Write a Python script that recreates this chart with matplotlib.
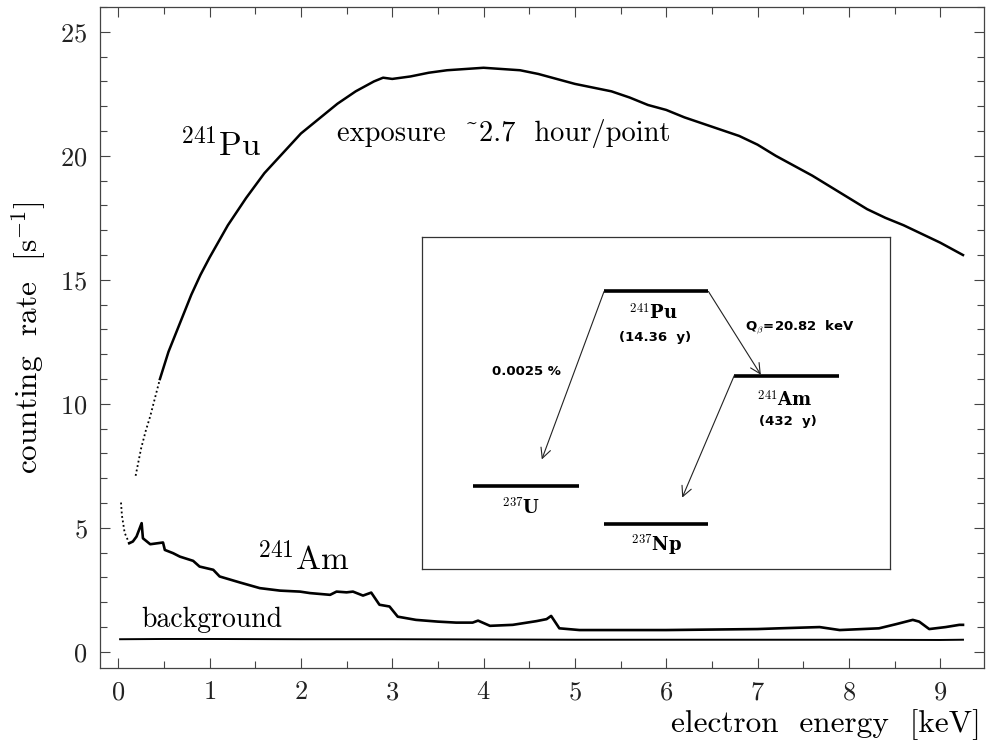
import numpy as np
import matplotlib
matplotlib.use('Agg')
import matplotlib.pyplot as plt
from matplotlib.ticker import MultipleLocator

plt.rcParams['font.family'] = ['cmr10', 'DejaVu Serif']
plt.rcParams['mathtext.fontset'] = 'cm'
plt.rcParams['axes.formatter.use_mathtext'] = True

### DATA ###
pu_energy = [0.19, 0.25, 0.30, 0.35, 0.456, 0.55, 0.675, 0.8, 0.9, 1.0, 1.2, 1.4, 1.6, 1.75,
             2.0, 2.2, 2.4, 2.6, 2.8, 2.9, 3.0, 3.2, 3.4, 3.6, 3.8, 4.0, 4.2, 4.4, 4.6, 4.8,
             5.0, 5.2, 5.4, 5.6, 5.8, 6.0, 6.2, 6.4, 6.6, 6.8, 7.0, 7.2, 7.4, 7.6, 7.8, 8.0,
             8.2, 8.4, 8.6, 8.8, 9.0, 9.1, 9.25]
pu_rate = [7.1, 8.2, 8.9, 9.5, 11.0, 12.1, 13.25, 14.4, 15.2, 15.9, 17.2, 18.3, 19.3, 19.9,
           20.9, 21.5, 22.1, 22.6, 23.0, 23.15, 23.1, 23.2, 23.35, 23.45, 23.5, 23.55, 23.5,
           23.45, 23.3, 23.1, 22.9, 22.75, 22.6, 22.35, 22.05, 21.85, 21.55, 21.3, 21.05,
           20.8, 20.45, 20.0, 19.6, 19.2, 18.75, 18.3, 17.85, 17.5, 17.2, 16.85, 16.5, 16.3, 16.0]

am_energy = [0.03, 0.04, 0.07, 0.12, 0.16, 0.2, 0.256, 0.27, 0.35, 0.49, 0.51, 0.6, 0.675,
             0.82, 0.89, 1.04, 1.11, 1.33, 1.55, 1.77, 1.99, 2.1, 2.32, 2.39, 2.5, 2.57, 2.68,
             2.77, 2.86, 2.97, 3.06, 3.26, 3.5, 3.7, 3.88, 3.94, 4.07, 4.32, 4.58, 4.69, 4.74,
             4.83, 5.05, 5.5, 6.0, 6.5, 7.0, 7.24, 7.68, 7.9, 8.33, 8.52, 8.7, 8.77, 8.88,
             9.06, 9.21, 9.25]
am_rate = [6.02, 5.5, 4.8, 4.38, 4.45, 4.65, 5.19, 4.58, 4.34, 4.41, 4.11, 3.98, 3.84,
           3.67, 3.44, 3.31, 3.04, 2.8, 2.57, 2.47, 2.43, 2.37, 2.3, 2.43, 2.4, 2.43, 2.27,
           2.39, 1.9, 1.83, 1.42, 1.29, 1.22, 1.18, 1.18, 1.26, 1.05, 1.09, 1.24, 1.32, 1.45,
           0.95, 0.88, 0.88, 0.88, 0.9, 0.92, 0.95, 1.0, 0.88, 0.95, 1.12, 1.29, 1.22, 0.92,
           1.0, 1.09, 1.09]

bg_energy = [0.02, 0.5, 1.0, 2.0, 3.0, 4.0, 5.0, 6.0, 7.0, 8.0, 9.0, 9.25]
bg_rate = [0.51, 0.52, 0.52, 0.51, 0.51, 0.50, 0.49, 0.49, 0.49, 0.49, 0.48, 0.49]

# decay scheme levels: (x_start, x_end, height) in inset units
levels = {
    'Pu241': (0.389, 0.612, 0.836),
    'Am241': (0.667, 0.892, 0.582),
    'U237': (0.110, 0.335, 0.249),
    'Np237': (0.389, 0.612, 0.136),
}

### FIGURE ###
fig = plt.figure(figsize=(9.92, 7.43), dpi=100)
ax = fig.add_axes([100 / 992, 75 / 743, 884 / 992, 661 / 743])

ax.plot(pu_energy[:5], pu_rate[:5], color='black', lw=1.3, ls=(0, (1, 1.5)))
ax.plot(pu_energy[4:], pu_rate[4:], color='black', lw=1.8)
ax.plot(am_energy[:4], am_rate[:4], color='black', lw=1.3, ls=(0, (1, 1.5)))
ax.plot(am_energy[3:], am_rate[3:], color='black', lw=1.9)
ax.plot(bg_energy, bg_rate, color='black', lw=1.4)

ax.set_xlim(-0.2, 9.48)
ax.set_ylim(-0.65, 26.0)
ax.xaxis.set_major_locator(MultipleLocator(1))
ax.xaxis.set_minor_locator(MultipleLocator(0.5))
ax.yaxis.set_major_locator(MultipleLocator(5))
ax.yaxis.set_minor_locator(MultipleLocator(1))
ax.tick_params(which='both', direction='in', top=True, right=True, color='#444444',
               width=0.8, labelsize=19, labelcolor='#222222')
ax.tick_params(which='major', length=7.5, pad=9)
ax.tick_params(which='minor', length=5)
for sp in ax.spines.values():
    sp.set_color('#444444')
    sp.set_linewidth(0.9)

ax.set_ylabel(r'counting  rate  [s$^{-1}$]', fontsize=22.5)
ax.yaxis.set_label_coords(-0.058, 0.5)
ax.set_xlabel('electron  energy  [keV]', fontsize=22.5, loc='right')
ax.xaxis.set_label_coords(0.996, -0.062)

ax.text(0.675, 20.0, r'$^{241}$Pu', fontsize=24, ha='left', va='baseline')
ax.text(1.515, 3.28, r'$^{241}$Am', fontsize=24, ha='left', va='baseline')
ax.text(0.256, 1.02, 'background', fontsize=20, ha='left', va='baseline')
ax.text(2.39, 20.58, 'exposure  ~2.7  hour/point', fontsize=20.5, ha='left', va='baseline')

### INSET: decay scheme ###
ins = fig.add_axes([422 / 992, 174 / 743, 468 / 992, 332 / 743])
ins.set_xlim(0, 1)
ins.set_ylim(0, 1)
ins.set_xticks([])
ins.set_yticks([])
for sp in ins.spines.values():
    sp.set_color('#333333')
    sp.set_linewidth(0.9)

for x0, x1, h in levels.values():
    ins.plot([x0, x1], [h, h], color='black', lw=2.6, solid_capstyle='butt')

arrow = dict(arrowstyle='->', lw=0.8, color='#222222', mutation_scale=18, shrinkA=0, shrinkB=0)
pu = levels['Pu241']
am = levels['Am241']
ins.annotate('', xy=(0.256, 0.330), xytext=(pu[0], pu[2]), arrowprops=arrow)
ins.annotate('', xy=(0.724, am[2] + 0.003), xytext=(pu[1], pu[2]), arrowprops=arrow)
ins.annotate('', xy=(0.556, 0.215), xytext=(am[0], am[2]), arrowprops=arrow)

iso = dict(family='DejaVu Serif', fontsize=13, fontweight='bold', ha='center', va='center')
small = dict(family='DejaVu Sans', fontsize=9.5, fontweight='bold', ha='center', va='center')
ins.text(0.494, 0.771, r'$^{\mathbf{241}}$Pu', **iso)
ins.text(0.498, 0.696, '(14.36  y)', **small)
ins.text(0.776, 0.509, r'$^{\mathbf{241}}$Am', **iso)
ins.text(0.782, 0.444, '(432  y)', **small)
ins.text(0.212, 0.184, r'$^{\mathbf{237}}$U', **iso)
ins.text(0.501, 0.072, r'$^{\mathbf{237}}$Np', **iso)
ins.text(0.690, 0.727, r'Q$_\beta$=20.82  keV', family='DejaVu Sans', fontsize=9.5,
         fontweight='bold', ha='left', va='center')
ins.text(0.149, 0.594, '0.0025 %', family='DejaVu Sans', fontsize=9.5,
         fontweight='bold', ha='left', va='center')

fig.savefig('out.png', dpi=100)
